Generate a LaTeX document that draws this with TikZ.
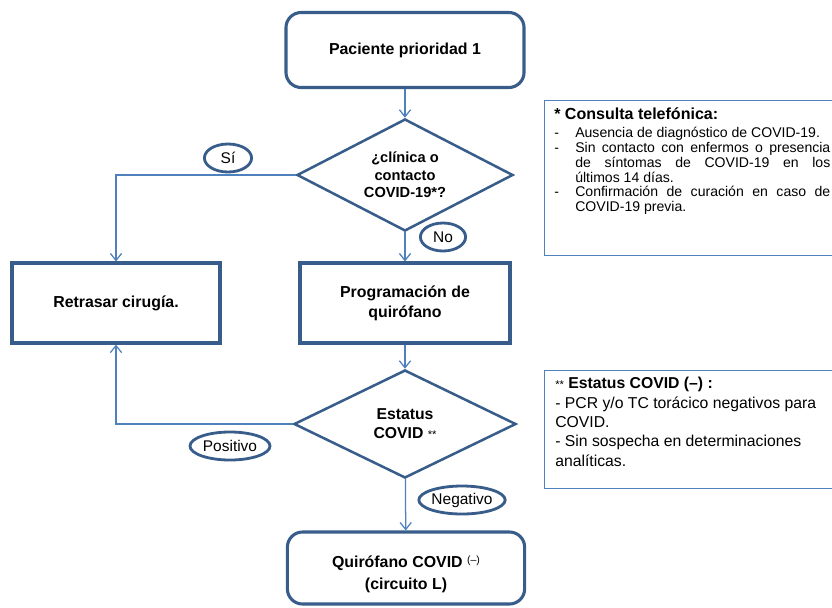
\documentclass[tikz,border=0pt]{standalone}
\usepackage{fontspec}
\setmainfont{Liberation Sans}
\usetikzlibrary{shapes.geometric,arrows.meta}
\definecolor{azuloscuro}{RGB}{56,93,138}
\definecolor{azulclaro}{RGB}{79,129,189}
\newcommand{\guion}{\noindent\hangindent=0.525cm\hangafter=1\makebox[0.525cm][l]{-}}
\begin{document}
\begin{tikzpicture}[x=0.025cm, y=-0.025cm,
    caja/.style = {rectangle, draw=azuloscuro, line width=2.2pt, fill=white,
        align=center, font=\fontsize{11.3}{14.2}\selectfont\bfseries},
    redonda/.style = {caja, rounded corners=0.38cm},
    rombo/.style = {diamond, aspect=2, inner sep=0pt, draw=azuloscuro,
        line width=1.8pt, fill=white, align=center,
        font=\fontsize{10.4}{12.4}\selectfont\bfseries},
    ovalo/.style = {ellipse, draw=azuloscuro, line width=2pt, fill=white,
        inner sep=0pt, minimum height=0.7cm,
        font=\fontsize{11}{13}\selectfont},
    flecha/.style = {draw=azulclaro, line width=0.9pt,
        -{Straight Barb[length=5pt,width=8pt]}},
    nota/.style = {rectangle, draw=azulclaro, line width=0.8pt,
        anchor=north west, minimum width=8cm},
    texto/.style = {anchor=north west, inner sep=0pt}]

\useasboundingbox (0,0) rectangle (832,607);

% Paciente
\node[redonda, minimum width=5.95cm, minimum height=1.875cm] (pac) at (405,50) {Paciente prioridad 1};

% Clinica o contacto
\node[rombo, minimum width=5.4cm, minimum height=2.8cm] (clin) at (405,175) {¿clínica o\\contacto\\COVID-19*?};

% Retrasar y programar
\node[caja, minimum width=5.2cm, minimum height=2cm] (retr) at (116,303) {Retrasar cirugía.};
\node[caja, minimum width=5.25cm, minimum height=2cm] (prog) at (405,303) {Programación de\\quirófano};

% Estatus COVID
\node[rombo, minimum width=5.55cm, minimum height=2.7cm,
    font=\fontsize{11.2}{13.5}\selectfont\bfseries] (est) at (405,424)
    {Estatus\\COVID {\mdseries\fontsize{8}{8}\selectfont **}};

% Quirofano
\node[redonda, minimum width=5.93cm, minimum height=1.8cm,
    font=\fontsize{11.3}{15.6}\selectfont\bfseries] (quir) at (406,568)
    {\rule{0pt}{17pt}Quirófano COVID \raisebox{2.5pt}{\mdseries\fontsize{7.5}{7.5}\selectfont(–)}\\(circuito L)};

% Conectores
\draw[flecha] (pac) -- (clin);
\draw[flecha] (clin) -- (prog);
\draw[flecha] (clin.west) -| (retr.north);
\draw[flecha] (prog) -- (est);
\draw[flecha] (est.west) -| (retr.south);
\draw[flecha] (est) -- (quir);

% Etiquetas
\node[ovalo, minimum width=1.18cm] (si) at (228,158) {Sí};
\node[ovalo, minimum width=1.13cm] (no) at (443,237) {No};
\node[ovalo, minimum width=2cm] (pos) at (230,446) {Positivo};
\node[ovalo, minimum width=2cm] (neg) at (462,500) {Negativo};

% Notas
\node[nota, minimum height=3.875cm] (nota1) at (544,100) {};
\node[texto, text width=6.9cm, align=justify,
    font=\fontsize{10}{10.6}\selectfont] (txt1) at (554,107)
    {{\fontsize{11.4}{13}\selectfont\bfseries * Consulta telefónica:\par}
    \vspace{2.4pt}
    \guion Ausencia de diagnóstico de COVID-19.\par
    \guion Sin contacto con enfermos o presencia\linebreak de síntomas de COVID-19 en los\linebreak últimos 14 días.\par
    \guion Confirmación de curación en caso de\linebreak COVID-19 previa.\par};

\node[nota, minimum height=2.95cm] (nota2) at (544,370) {};
\node[texto, align=left, font=\fontsize{11.2}{13.8}\selectfont] (txt2) at (555,377)
    {{\fontsize{8}{8}\selectfont **} \textbf{Estatus COVID (–) :}\\
    - PCR y/o TC torácico negativos para\\
    COVID.\\
    - Sin sospecha en determinaciones\\
    analíticas.};

\end{tikzpicture}
\end{document}
